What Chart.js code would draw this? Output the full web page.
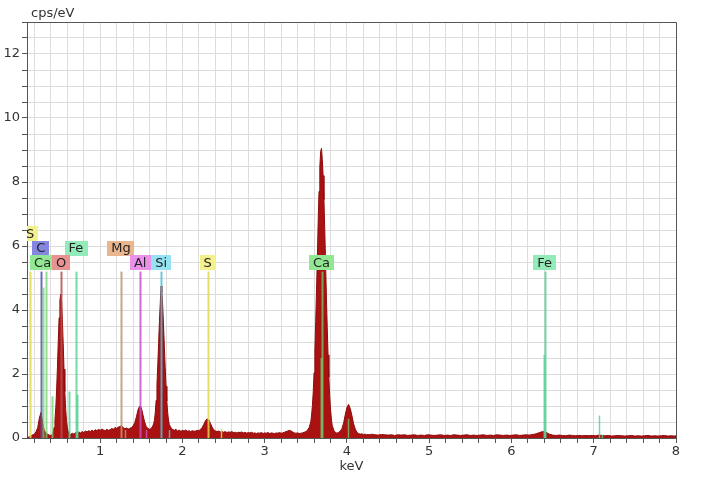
<!DOCTYPE html>
<html>
<head>
<meta charset="utf-8">
<script src="https://cdn.jsdelivr.net/npm/chart.js@4.4.0/dist/chart.umd.min.js"></script>
<style>
  body { margin: 0; background: #fff; }
  canvas { display: block; }
</style>
</head>
<body>
<canvas id="spectrumChart" width="705" height="480"></canvas>
<script>
/**
 *  ! Data
 * **/
const xTickValues = [1, 2, 3, 4, 5, 6, 7, 8];
const yTickValues = [0, 2, 4, 6, 8, 10, 12];

// [keV, cps/eV]
const spectrum = [
  [0.11, 0.0], [0.12, 0.02], [0.14, 0.04], [0.16, 0.07], [0.18, 0.1], [0.2, 0.12],
  [0.22, 0.2], [0.24, 0.32], [0.26, 0.62], [0.28, 0.8], [0.3, 0.48], [0.32, 0.24],
  [0.34, 0.16], [0.36, 0.12], [0.38, 0.09], [0.4, 0.08], [0.42, 0.12], [0.43, 0.21],
  [0.44, 0.33], [0.45, 0.57], [0.46, 0.94], [0.47, 1.5], [0.48, 2.21], [0.49, 3.01],
  [0.5, 3.76], [0.51, 4.3], [0.52, 4.5], [0.53, 4.25], [0.54, 3.7], [0.55, 2.95],
  [0.56, 2.15], [0.57, 1.45], [0.58, 0.9], [0.59, 0.55], [0.6, 0.32], [0.61, 0.2],
  [0.62, 0.14], [0.64, 0.11], [0.66, 0.15], [0.68, 0.12], [0.7, 0.17], [0.72, 0.14],
  [0.74, 0.19], [0.76, 0.16], [0.78, 0.2], [0.8, 0.17], [0.82, 0.22], [0.84, 0.19],
  [0.86, 0.23], [0.88, 0.2], [0.9, 0.25], [0.92, 0.21], [0.94, 0.26], [0.96, 0.23],
  [0.98, 0.27], [1.0, 0.24], [1.02, 0.28], [1.04, 0.25], [1.06, 0.23], [1.08, 0.27],
  [1.1, 0.24], [1.12, 0.26], [1.14, 0.3], [1.16, 0.27], [1.18, 0.33], [1.2, 0.3],
  [1.22, 0.34], [1.24, 0.36], [1.26, 0.38], [1.28, 0.33], [1.3, 0.29], [1.32, 0.31],
  [1.34, 0.28], [1.36, 0.3], [1.38, 0.33], [1.4, 0.38], [1.42, 0.48], [1.44, 0.66],
  [1.46, 0.88], [1.48, 1.0], [1.5, 0.95], [1.52, 0.72], [1.54, 0.5], [1.56, 0.36],
  [1.58, 0.3], [1.6, 0.27], [1.62, 0.3], [1.64, 0.38], [1.65, 0.45], [1.66, 0.56],
  [1.67, 0.81], [1.68, 1.18], [1.69, 1.68], [1.7, 2.28], [1.71, 2.96], [1.72, 3.64],
  [1.73, 4.21], [1.74, 4.75], [1.75, 4.55], [1.76, 4.1], [1.77, 3.5], [1.78, 2.85],
  [1.79, 2.2], [1.8, 1.62], [1.81, 1.15], [1.82, 0.8], [1.83, 0.56], [1.84, 0.42],
  [1.86, 0.32], [1.88, 0.27], [1.9, 0.24], [1.92, 0.27], [1.94, 0.22], [1.96, 0.25],
  [1.98, 0.21], [2.0, 0.24], [2.02, 0.22], [2.04, 0.25], [2.06, 0.21], [2.08, 0.23],
  [2.1, 0.2], [2.12, 0.23], [2.14, 0.21], [2.16, 0.22], [2.18, 0.24], [2.2, 0.23],
  [2.22, 0.27], [2.24, 0.33], [2.26, 0.43], [2.28, 0.54], [2.3, 0.6], [2.32, 0.57],
  [2.34, 0.46], [2.36, 0.34], [2.38, 0.26], [2.4, 0.22], [2.42, 0.2], [2.44, 0.22],
  [2.46, 0.19], [2.48, 0.2], [2.5, 0.18], [2.52, 0.2], [2.54, 0.17], [2.56, 0.19],
  [2.58, 0.18], [2.6, 0.2], [2.62, 0.17], [2.64, 0.18], [2.66, 0.16], [2.68, 0.18],
  [2.7, 0.17], [2.72, 0.19], [2.74, 0.16], [2.76, 0.18], [2.78, 0.15], [2.8, 0.17],
  [2.82, 0.16], [2.84, 0.18], [2.86, 0.15], [2.88, 0.16], [2.9, 0.14], [2.92, 0.16],
  [2.94, 0.15], [2.96, 0.17], [2.98, 0.14], [3.0, 0.16], [3.02, 0.15], [3.04, 0.17],
  [3.06, 0.14], [3.08, 0.16], [3.1, 0.15], [3.12, 0.14], [3.14, 0.16], [3.16, 0.15],
  [3.18, 0.17], [3.2, 0.15], [3.22, 0.16], [3.24, 0.18], [3.26, 0.2], [3.28, 0.22],
  [3.3, 0.24], [3.32, 0.22], [3.34, 0.19], [3.36, 0.16], [3.38, 0.15], [3.4, 0.16],
  [3.42, 0.14], [3.44, 0.15], [3.46, 0.16], [3.48, 0.18], [3.5, 0.2], [3.52, 0.24],
  [3.54, 0.33], [3.56, 0.5], [3.57, 0.72], [3.58, 1.02], [3.59, 1.45], [3.6, 2.04],
  [3.61, 2.75], [3.62, 3.65], [3.63, 4.64], [3.64, 5.65], [3.65, 6.77], [3.66, 7.71],
  [3.67, 8.48], [3.68, 8.95], [3.69, 9.05], [3.7, 8.7], [3.71, 8.2], [3.72, 7.45],
  [3.73, 6.5], [3.74, 5.45], [3.75, 4.4], [3.76, 3.45], [3.77, 2.6], [3.78, 1.9],
  [3.79, 1.32], [3.8, 0.9], [3.81, 0.6], [3.82, 0.4], [3.84, 0.24], [3.86, 0.17],
  [3.88, 0.15], [3.9, 0.18], [3.92, 0.22], [3.94, 0.3], [3.96, 0.48], [3.98, 0.74],
  [4.0, 0.96], [4.02, 1.05], [4.04, 0.92], [4.06, 0.7], [4.08, 0.45], [4.1, 0.28],
  [4.12, 0.18], [4.14, 0.14], [4.16, 0.12], [4.18, 0.13], [4.2, 0.11], [4.22, 0.12],
  [4.24, 0.1], [4.26, 0.11], [4.28, 0.1], [4.3, 0.12], [4.34, 0.1], [4.38, 0.09],
  [4.42, 0.11], [4.46, 0.1], [4.5, 0.09], [4.54, 0.1], [4.58, 0.08], [4.62, 0.1],
  [4.66, 0.09], [4.7, 0.1], [4.74, 0.08], [4.78, 0.09], [4.82, 0.1], [4.86, 0.08],
  [4.9, 0.09], [4.94, 0.08], [4.98, 0.1], [5.02, 0.09], [5.06, 0.08], [5.1, 0.09],
  [5.14, 0.1], [5.18, 0.08], [5.22, 0.09], [5.26, 0.08], [5.3, 0.1], [5.34, 0.09],
  [5.38, 0.08], [5.42, 0.09], [5.46, 0.1], [5.5, 0.08], [5.54, 0.09], [5.58, 0.08],
  [5.62, 0.09], [5.66, 0.1], [5.7, 0.08], [5.74, 0.09], [5.78, 0.08], [5.82, 0.1],
  [5.86, 0.09], [5.9, 0.08], [5.94, 0.09], [5.98, 0.08], [6.02, 0.09], [6.06, 0.1],
  [6.1, 0.08], [6.14, 0.09], [6.18, 0.1], [6.22, 0.09], [6.26, 0.11], [6.3, 0.13],
  [6.34, 0.17], [6.38, 0.2], [6.42, 0.18], [6.46, 0.12], [6.5, 0.09], [6.54, 0.08],
  [6.58, 0.09], [6.62, 0.08], [6.66, 0.07], [6.7, 0.09], [6.74, 0.08], [6.78, 0.07],
  [6.82, 0.08], [6.86, 0.07], [6.9, 0.08], [6.94, 0.07], [6.98, 0.08], [7.02, 0.07],
  [7.06, 0.09], [7.1, 0.08], [7.14, 0.07], [7.18, 0.08], [7.22, 0.06], [7.26, 0.07],
  [7.3, 0.08], [7.34, 0.07], [7.38, 0.06], [7.42, 0.07], [7.46, 0.08], [7.5, 0.06],
  [7.54, 0.07], [7.58, 0.06], [7.62, 0.07], [7.66, 0.08], [7.7, 0.06], [7.74, 0.07],
  [7.78, 0.06], [7.82, 0.07], [7.86, 0.08], [7.9, 0.06], [7.94, 0.07], [7.98, 0.06],
  [8.0, 0.07],
];

// element lines: [element, keV, height in cps/eV]
const markerLines = [
  ["S", 0.149, 5.2],
  ["C", 0.277, 5.2],
  ["Ca", 0.302, 4.7],
  ["Ca", 0.341, 5.2],
  ["Ca", 0.41, 1.3],
  ["O", 0.525, 5.2],
  ["Fe", 0.615, 1.45],
  ["Fe", 0.705, 5.2],
  ["Fe", 0.718, 1.35],
  ["Mg", 1.254, 5.2],
  ["Mg", 1.302, 0.25],
  ["Al", 1.486, 5.2],
  ["Al", 1.557, 0.25],
  ["Si", 1.74, 5.2],
  ["Si", 1.836, 0.25],
  ["S", 2.307, 5.2],
  ["S", 2.464, 0.3],
  ["Ca", 3.691, 5.2],
  ["Ca", 3.688, 2.5],
  ["Ca", 4.013, 0.6],
  ["Fe", 6.404, 5.2],
  ["Fe", 6.391, 2.6],
  ["Fe", 7.058, 0.7],
  ["Fe", 7.1, 0.1],
];

// element labels: [element, keV, row]  (row 0 = lowest)
const markerLabels = [
  ["S", 0.149, 2],
  ["C", 0.277, 1],
  ["Fe", 0.705, 1],
  ["Mg", 1.254, 1],
  ["Ca", 0.3, 0],
  ["O", 0.525, 0],
  ["Al", 1.486, 0],
  ["Si", 1.74, 0],
  ["S", 2.307, 0],
  ["Ca", 3.691, 0],
  ["Fe", 6.404, 0],
];

/**
 *  ! Styles
 * **/
const elementColors = {
  S: { box: "#F3F08E", line: "rgba(225, 215, 80, 0.85)" },
  C: { box: "#8585E2", line: "rgba(80, 80, 180, 0.85)" },
  Ca: { box: "#92E892", line: "rgba(110, 210, 110, 0.75)" },
  O: { box: "#EA9292", line: "rgba(180, 80, 80, 0.85)" },
  Fe: { box: "#94EBBA", line: "rgba(90, 210, 150, 0.85)" },
  Mg: { box: "#EAB68E", line: "rgba(190, 150, 110, 0.85)" },
  Al: { box: "#EA92EA", line: "rgba(200, 80, 200, 0.85)" },
  Si: { box: "#94E2F2", line: "rgba(80, 190, 215, 0.85)" },
};
const FONT = "DejaVu Sans";

const markerPlugin = {
  id: "markers",
  afterDatasetsDraw(chart) {
    const { ctx, chartArea, scales } = chart;
    const xs = scales.x;
    const ys = scales.y;
    ctx.save();
    ctx.beginPath();
    ctx.rect(chartArea.left, chartArea.top, chartArea.right - chartArea.left, chartArea.bottom - chartArea.top);
    ctx.clip();

    // element lines
    markerLines.forEach(([el, kev, h]) => {
      const px = Math.round(xs.getPixelForValue(kev)) + 0.5;
      ctx.strokeStyle = elementColors[el].line;
      ctx.lineWidth = h >= 1 ? 2 : 1.5;
      ctx.beginPath();
      ctx.moveTo(px, ys.getPixelForValue(0));
      ctx.lineTo(px, ys.getPixelForValue(h));
      ctx.stroke();
    });

    // element labels
    const lineTop = ys.getPixelForValue(5.2);
    ctx.font = "13px " + FONT;
    ctx.textAlign = "center";
    ctx.textBaseline = "middle";
    markerLabels.forEach(([el, kev, row]) => {
      const cx = xs.getPixelForValue(kev);
      const cy = lineTop - 9 - row * 14.5;
      const w = ctx.measureText(el).width + 8;
      ctx.fillStyle = elementColors[el].box;
      ctx.fillRect(Math.round(cx - w / 2), Math.round(cy - 7.5), Math.round(w), 15);
      ctx.fillStyle = "#222";
      ctx.fillText(el, cx, cy + 1);
    });
    ctx.restore();

    // frame (top + right)
    ctx.save();
    ctx.strokeStyle = "#555";
    ctx.lineWidth = 1;
    ctx.beginPath();
    ctx.moveTo(chartArea.left, chartArea.top + 0.5);
    ctx.lineTo(chartArea.right + 0.5, chartArea.top + 0.5);
    ctx.lineTo(chartArea.right + 0.5, chartArea.bottom);
    ctx.stroke();

    // axis titles
    ctx.fillStyle = "#333";
    ctx.font = "13px " + FONT;
    ctx.textBaseline = "middle";
    ctx.textAlign = "left";
    ctx.fillText("cps/eV", 31, 14);
    ctx.textAlign = "center";
    ctx.fillText("keV", (chartArea.left + chartArea.right) / 2, 467);
    ctx.restore();
  },
};

/**
 *  ! Chart
 * **/
const ctx = document.getElementById("spectrumChart");

new Chart(ctx, {
  type: "line",
  data: {
    datasets: [
      {
        label: "spectrum",
        data: spectrum.map((p) => ({ x: p[0], y: p[1] })),
        backgroundColor: "#AA1212",
        borderColor: "#8E0B0B",
        borderWidth: 1,
        fill: "origin",
        pointRadius: 0,
        tension: 0,
      },
    ],
  },
  options: {
    responsive: false,
    animation: false,
    layout: {
      padding: { top: 22, right: 29, left: 0, bottom: 0 },
    },
    scales: {
      x: {
        type: "linear",
        min: 0.11,
        max: 8,
        afterFit: (scale) => {
          scale.height = 42;
        },
        afterBuildTicks: (scale) => {
          const t = [];
          for (let i = 1; i <= 40; i++) t.push({ value: Number((i * 0.2).toFixed(1)) });
          scale.ticks = t;
        },
        ticks: {
          autoSkip: false,
          maxRotation: 0,
          padding: 1,
          color: "#333",
          font: { family: FONT, size: 13 },
          callback: (value) => (xTickValues.includes(value) ? String(value) : ""),
        },
        grid: {
          color: "#DCDCDC",
          lineWidth: 1,
          tickLength: 5,
          tickColor: "#555",
        },
        border: { color: "#555" },
      },
      y: {
        min: 0,
        max: 13,
        afterFit: (scale) => {
          scale.width = 27;
        },
        afterBuildTicks: (scale) => {
          const t = [];
          for (let i = 0; i <= 26; i++) t.push({ value: i * 0.5 });
          scale.ticks = t;
        },
        ticks: {
          autoSkip: false,
          padding: 2,
          color: "#333",
          font: { family: FONT, size: 13 },
          callback: (value) => (yTickValues.includes(value) ? String(value) : ""),
        },
        grid: {
          color: "#DCDCDC",
          lineWidth: 1,
          tickLength: 5,
          tickColor: "#555",
        },
        border: { color: "#555" },
      },
    },
    plugins: {
      legend: { display: false },
      tooltip: { enabled: false },
    },
  },
  plugins: [markerPlugin],
});
</script>
</body>
</html>
